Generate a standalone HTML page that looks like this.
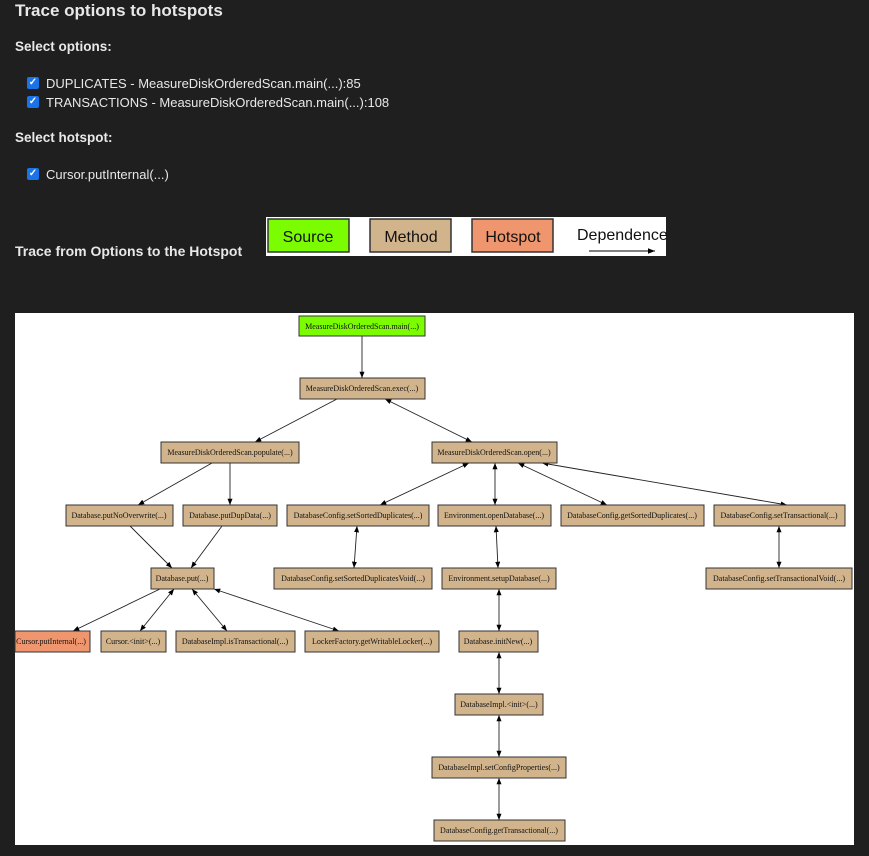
<!DOCTYPE html>
<html><head><meta charset="utf-8"><style>
body{margin:0;width:869px;height:856px;background:#1f1f1f;font-family:"Liberation Sans",sans-serif;color:#e8e8e8;position:relative;overflow:hidden}
.t{position:absolute;font-weight:bold;white-space:nowrap}
.cb{position:absolute;width:12px;height:12px;background:#1a73e8;border-radius:2px;color:#fff;font-size:10px;line-height:12px;text-align:center;font-weight:bold}
.l{position:absolute;font-size:13px;white-space:nowrap}
</style></head><body>
<div class="t" style="left:15px;top:1px;font-size:17px">Trace options to hotspots</div>
<div class="t" style="left:15px;top:39px;font-size:13.5px">Select options:</div>
<div class="cb" style="left:27px;top:77px">✓</div><div class="l" style="left:46px;top:76px">DUPLICATES - MeasureDiskOrderedScan.main(...):85</div>
<div class="cb" style="left:27px;top:96px">✓</div><div class="l" style="left:46px;top:95px">TRANSACTIONS - MeasureDiskOrderedScan.main(...):108</div>
<div class="t" style="left:15px;top:130px;font-size:13.5px">Select hotspot:</div>
<div class="cb" style="left:27px;top:168px">✓</div><div class="l" style="left:46px;top:167px">Cursor.putInternal(...)</div>
<div class="t" style="left:15px;top:243px;font-size:14px">Trace from Options to the Hotspot</div>
<svg width="869" height="856" style="position:absolute;left:0;top:0">
<defs><marker id="a" viewBox="0 0 10 10" refX="10" refY="5" markerWidth="7" markerHeight="7" orient="auto-start-reverse"><path d="M0,1 L10,5 L0,9z" fill="#000"/></marker></defs>
<rect x="266" y="217" width="400" height="39" fill="#fff"/>
<rect x="268" y="219" width="81" height="33" fill="#7cfc00" stroke="#333" stroke-width="1.5"/>
<text x="308" y="242" font-size="16" text-anchor="middle" fill="#111" font-family="Liberation Sans">Source</text>
<rect x="370" y="219" width="81" height="33" fill="#d2b48c" stroke="#333" stroke-width="1.5"/>
<text x="411" y="242" font-size="16" text-anchor="middle" fill="#111" font-family="Liberation Sans">Method</text>
<rect x="472" y="219" width="81" height="33" fill="#f0966e" stroke="#333" stroke-width="1.5"/>
<text x="513" y="242" font-size="16" text-anchor="middle" fill="#111" font-family="Liberation Sans">Hotspot</text>
<text x="577" y="240" font-size="16" fill="#111" font-family="Liberation Sans">Dependence</text>
<line x1="589" y1="251" x2="655" y2="251" stroke="#000" marker-end="url(#a)"/>
<rect x="15" y="313" width="839" height="532" fill="#fff"/>
<g stroke="#222" stroke-width="0.9" fill="none">
<line x1="362" y1="336" x2="362" y2="378" marker-end="url(#a)"/>
<line x1="337" y1="399" x2="255" y2="442" marker-end="url(#a)"/>
<line x1="385" y1="399" x2="472" y2="442" marker-end="url(#a)" marker-start="url(#a)"/>
<line x1="212" y1="463" x2="138" y2="505" marker-end="url(#a)"/>
<line x1="230" y1="463" x2="230" y2="505" marker-end="url(#a)"/>
<line x1="469" y1="463" x2="380" y2="505" marker-end="url(#a)" marker-start="url(#a)"/>
<line x1="495" y1="463" x2="495" y2="505" marker-end="url(#a)" marker-start="url(#a)"/>
<line x1="518" y1="463" x2="607" y2="505" marker-end="url(#a)" marker-start="url(#a)"/>
<line x1="542" y1="463" x2="787" y2="505" marker-end="url(#a)" marker-start="url(#a)"/>
<line x1="130" y1="526" x2="172" y2="568" marker-end="url(#a)"/>
<line x1="222" y1="526" x2="191" y2="568" marker-end="url(#a)"/>
<line x1="357" y1="526" x2="354" y2="568" marker-end="url(#a)" marker-start="url(#a)"/>
<line x1="496" y1="526" x2="498" y2="568" marker-end="url(#a)" marker-start="url(#a)"/>
<line x1="779" y1="526" x2="779" y2="568" marker-end="url(#a)" marker-start="url(#a)"/>
<line x1="160" y1="589" x2="73" y2="631" marker-end="url(#a)"/>
<line x1="174" y1="589" x2="140" y2="631" marker-end="url(#a)" marker-start="url(#a)"/>
<line x1="192" y1="589" x2="227" y2="631" marker-end="url(#a)" marker-start="url(#a)"/>
<line x1="214" y1="589" x2="339" y2="631" marker-end="url(#a)" marker-start="url(#a)"/>
<line x1="499" y1="589" x2="499" y2="631" marker-end="url(#a)" marker-start="url(#a)"/>
<line x1="499" y1="652" x2="499" y2="694" marker-end="url(#a)" marker-start="url(#a)"/>
<line x1="499" y1="715" x2="499" y2="757" marker-end="url(#a)" marker-start="url(#a)"/>
<line x1="499" y1="778" x2="499" y2="820" marker-end="url(#a)" marker-start="url(#a)"/>
</g>
<g font-family="Liberation Serif" font-size="8" fill="#111" text-anchor="middle" stroke-width="1">
<rect x="299" y="316" width="126" height="20" fill="#7cfc00" stroke="#333"/><text x="362" y="329">MeasureDiskOrderedScan.main(...)</text>
<rect x="300" y="378" width="125" height="21" fill="#d2b48c" stroke="#333"/><text x="362" y="391">MeasureDiskOrderedScan.exec(...)</text>
<rect x="161" y="442" width="138" height="21" fill="#d2b48c" stroke="#333"/><text x="230" y="455">MeasureDiskOrderedScan.populate(...)</text>
<rect x="432" y="442" width="125" height="21" fill="#d2b48c" stroke="#333"/><text x="494" y="455">MeasureDiskOrderedScan.open(...)</text>
<rect x="66" y="505" width="107" height="21" fill="#d2b48c" stroke="#333"/><text x="119" y="518">Database.putNoOverwrite(...)</text>
<rect x="183" y="505" width="94" height="21" fill="#d2b48c" stroke="#333"/><text x="230" y="518">Database.putDupData(...)</text>
<rect x="287" y="505" width="142" height="21" fill="#d2b48c" stroke="#333"/><text x="358" y="518">DatabaseConfig.setSortedDuplicates(...)</text>
<rect x="438" y="505" width="113" height="21" fill="#d2b48c" stroke="#333"/><text x="494" y="518">Environment.openDatabase(...)</text>
<rect x="561" y="505" width="143" height="21" fill="#d2b48c" stroke="#333"/><text x="632" y="518">DatabaseConfig.getSortedDuplicates(...)</text>
<rect x="714" y="505" width="131" height="21" fill="#d2b48c" stroke="#333"/><text x="779" y="518">DatabaseConfig.setTransactional(...)</text>
<rect x="151" y="568" width="63" height="21" fill="#d2b48c" stroke="#333"/><text x="182" y="581">Database.put(...)</text>
<rect x="274" y="568" width="158" height="21" fill="#d2b48c" stroke="#333"/><text x="353" y="581">DatabaseConfig.setSortedDuplicatesVoid(...)</text>
<rect x="442" y="568" width="114" height="21" fill="#d2b48c" stroke="#333"/><text x="499" y="581">Environment.setupDatabase(...)</text>
<rect x="706" y="568" width="146" height="21" fill="#d2b48c" stroke="#333"/><text x="779" y="581">DatabaseConfig.setTransactionalVoid(...)</text>
<rect x="15" y="631" width="75" height="21" fill="#f0966e" stroke="#333"/><text x="51" y="644">Cursor.putInternal(...)</text>
<rect x="101" y="631" width="65" height="21" fill="#d2b48c" stroke="#333"/><text x="133" y="644">Cursor.&lt;init&gt;(...)</text>
<rect x="176" y="631" width="119" height="21" fill="#d2b48c" stroke="#333"/><text x="235" y="644">DatabaseImpl.isTransactional(...)</text>
<rect x="305" y="631" width="134" height="21" fill="#d2b48c" stroke="#333"/><text x="372" y="644">LockerFactory.getWritableLocker(...)</text>
<rect x="459" y="631" width="79" height="21" fill="#d2b48c" stroke="#333"/><text x="498" y="644">Database.initNew(...)</text>
<rect x="455" y="694" width="88" height="21" fill="#d2b48c" stroke="#333"/><text x="499" y="707">DatabaseImpl.&lt;init&gt;(...)</text>
<rect x="432" y="757" width="134" height="21" fill="#d2b48c" stroke="#333"/><text x="499" y="770">DatabaseImpl.setConfigProperties(...)</text>
<rect x="434" y="820" width="131" height="21" fill="#d2b48c" stroke="#333"/><text x="499" y="833">DatabaseConfig.getTransactional(...)</text>
</g>
</svg>
</body></html>
